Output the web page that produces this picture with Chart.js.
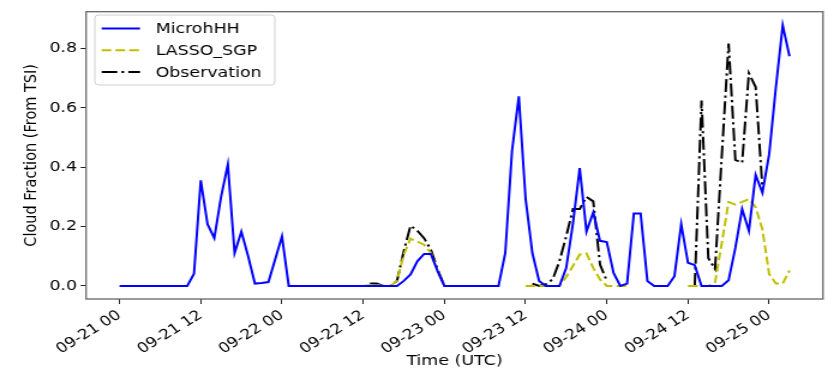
<!DOCTYPE html>
<html>
<head>
<meta charset="utf-8">
<script src="https://cdn.jsdelivr.net/npm/chart.js@4.4.1/dist/chart.umd.min.js"></script>
<style>
  html, body { margin: 0; padding: 0; background: #fff; overflow: hidden; }
  #wrap { width: 690px; height: 370px; transform: scaleX(1.2); transform-origin: 0 0; }
</style>
</head>
<body>
<div id="wrap"><canvas id="grafica"></canvas></div>
<script>
// hours since 09-21 00 UTC (hourly samples)
const hours = [
  0, 1, 2, 3, 4, 5, 6, 7, 8, 9, 10, 11, 12, 13, 14, 15, 16, 17, 18, 19,
  20, 21, 22, 23, 24, 25, 26, 27, 28, 29, 30, 31, 32, 33, 34, 35, 36, 37, 38, 39,
  40, 41, 42, 43, 44, 45, 46, 47, 48, 49, 50, 51, 52, 53, 54, 55, 56, 57, 58, 59,
  60, 61, 62, 63, 64, 65, 66, 67, 68, 69, 70, 71, 72, 73, 74, 75, 76, 77, 78, 79,
  80, 81, 82, 83, 84, 85, 86, 87, 88, 89, 90, 91, 92, 93, 94, 95, 96, 97, 98, 99
];

const microhh = [
  0, 0, 0, 0, 0, 0, 0, 0, 0, 0,
  0, 0.041, 0.356, 0.208, 0.161, 0.300, 0.409, 0.111, 0.183, 0.100,
  0.008, 0.010, 0.013, 0.090, 0.167, 0, 0, 0, 0, 0,
  0, 0, 0, 0, 0, 0, 0, 0, 0, 0,
  0, 0, 0.017, 0.039, 0.083, 0.108, 0.108, 0.050, 0, 0,
  0, 0, 0, 0, 0, 0, 0, 0.111, 0.456, 0.639,
  0.294, 0.111, 0.017, 0, 0, 0, 0.060, 0.210, 0.397, 0.183,
  0.248, 0.152, 0.148, 0.044, 0, 0.008, 0.244, 0.244, 0.017, 0,
  0, 0, 0.033, 0.208, 0.078, 0.070, 0, 0, 0, 0,
  0.019, 0.128, 0.259, 0.186, 0.374, 0.314, 0.444, 0.672, 0.878, 0.774
];

const lassoSgp = [
  null, null, null, null, null, null, null, null, null, null,
  null, null, null, null, null, null, null, null, null, null,
  null, null, null, null, null, null, null, null, null, null,
  null, null, null, null, null, null, 0, 0.003, 0.003, 0,
  0, 0.017, 0.106, 0.159, 0.150, 0.139, 0.111, 0.050, 0, 0,
  0, 0, null, null, null, null, null, null, null, null,
  0, 0, 0, 0, 0, 0, 0.030, 0.067, 0.106, 0.110,
  0.061, 0.022, 0, 0, 0, 0, null, null, null, null,
  null, null, null, null, 0, 0, 0, 0, 0.012, 0.145,
  0.283, 0.274, 0.283, 0.293, 0.265, 0.190, 0.040, 0.008, 0.008, 0.052
];

const observacion = [
  null, null, null, null, null, null, null, null, null, null,
  null, null, null, null, null, null, null, null, null, null,
  null, null, null, null, null, null, null, null, null, null,
  null, null, null, null, null, null, null, 0.008, 0.008, 0,
  0, 0.017, 0.117, 0.203, 0.186, 0.161, 0.122, 0.056, 0, 0,
  0, 0, null, null, null, null, null, null, null, null,
  null, 0.008, 0, 0.006, 0.022, 0.083, 0.167, 0.259, 0.259, 0.300,
  0.285, 0.072, 0.017, null, null, null, null, null, null, null,
  null, null, null, null, null, 0, 0.625, 0.094, 0.057, 0.440,
  0.817, 0.425, 0.415, 0.717, 0.670, 0.330, null, null, null, null
];

const xTickHours = [0, 12, 24, 36, 48, 60, 72, 84, 96];
const xTickLabels = ["09-21 00", "09-21 12", "09-22 00", "09-22 12", "09-23 00",
                     "09-23 12", "09-24 00", "09-24 12", "09-25 00"];
const yTickValues = [0, 0.2, 0.4, 0.6, 0.8];

const series = [
  { label: "MicrohHH", data: microhh, color: "#0000ff", dash: [] },
  { label: "LASSO_SGP", data: lassoSgp, color: "#bfbf00", dash: [8, 3.5] },
  { label: "Observation", data: observacion, color: "#000000", dash: [13, 3.5, 2.2, 3.5] },
];

const FUENTE = "'DejaVu Sans', sans-serif";
Chart.defaults.font.family = FUENTE;
Chart.defaults.font.size = 14.5;
Chart.defaults.color = "#000";

// marco de los ejes (4 lados, como matplotlib)
const marco = {
  id: "marco",
  afterDatasetsDraw(chart) {
    const { ctx, chartArea: a } = chart;
    ctx.save();
    ctx.strokeStyle = "#666";
    ctx.lineWidth = 1.3;
    ctx.strokeRect(a.left, a.top, a.right - a.left, a.bottom - a.top);
    ctx.restore();
  },
};

// leyenda estilo matplotlib
const leyenda = {
  id: "leyenda",
  afterDraw(chart) {
    const { ctx } = chart;
    const x0 = 79, y0 = 15, w = 150, h = 70, r = 3;
    ctx.save();
    ctx.beginPath();
    ctx.roundRect(x0, y0, w, h, r);
    ctx.fillStyle = "rgba(255,255,255,0.8)";
    ctx.fill();
    ctx.strokeStyle = "#d0d0d0";
    ctx.lineWidth = 1;
    ctx.stroke();
    ctx.font = "14.5px " + FUENTE;
    ctx.textBaseline = "middle";
    series.forEach((s, i) => {
      const y = 28.5 + i * 21.7;
      ctx.beginPath();
      ctx.setLineDash(s.dash);
      ctx.strokeStyle = s.color;
      ctx.lineWidth = 2;
      ctx.moveTo(84.7, y);
      ctx.lineTo(116.7, y);
      ctx.stroke();
      ctx.setLineDash([]);
      ctx.fillStyle = "#000";
      ctx.fillText(s.label, 129.7, y + 1);
    });
    ctx.restore();
  },
};

new Chart(document.getElementById("grafica"), {
  type: "line",
  data: {
    datasets: series.map((s) => ({
      label: s.label,
      data: s.data.map((v, i) => ({ x: hours[i], y: v })),
      borderColor: s.color,
      backgroundColor: s.color,
      borderWidth: 2,
      borderDash: s.dash,
      pointRadius: 0,
      tension: 0,
      spanGaps: false,
    })),
  },
  options: {
    responsive: true,
    maintainAspectRatio: false,
    animation: false,
    layout: { padding: { top: 9, right: 4.2, left: 0, bottom: 0 } },
    scales: {
      x: {
        type: "linear",
        min: -4.95,
        max: 103.95,
        afterBuildTicks: (s) => { s.ticks = xTickHours.map((v) => ({ value: v })); },
        afterFit: (s) => { s.height = 71; },
        ticks: {
          autoSkip: false,
          minRotation: 36,
          maxRotation: 36,
          padding: 3,
          font: { size: 14 },
          callback: (v, i) => xTickLabels[i],
        },
        grid: { drawOnChartArea: false, drawTicks: true, tickLength: 5, color: "#222" },
        border: { display: false },
        title: { display: true, text: "Time (UTC)", padding: { top: 0, bottom: 0 } },
      },
      y: {
        min: -0.044,
        max: 0.924,
        afterBuildTicks: (s) => { s.ticks = yTickValues.map((v) => ({ value: v })); },
        afterFit: (s) => { s.width = 71.7; },
        ticks: { padding: 3, callback: (v) => v.toFixed(1) },
        grid: { drawOnChartArea: false, drawTicks: true, tickLength: 4.5, color: "#222" },
        border: { display: false },
        title: { display: true, text: "Cloud Fraction (From TSI)", padding: { top: 18, bottom: 0 } },
      },
    },
    plugins: { legend: { display: false }, tooltip: { enabled: false } },
  },
  plugins: [marco, leyenda],
});
</script>
</body>
</html>
